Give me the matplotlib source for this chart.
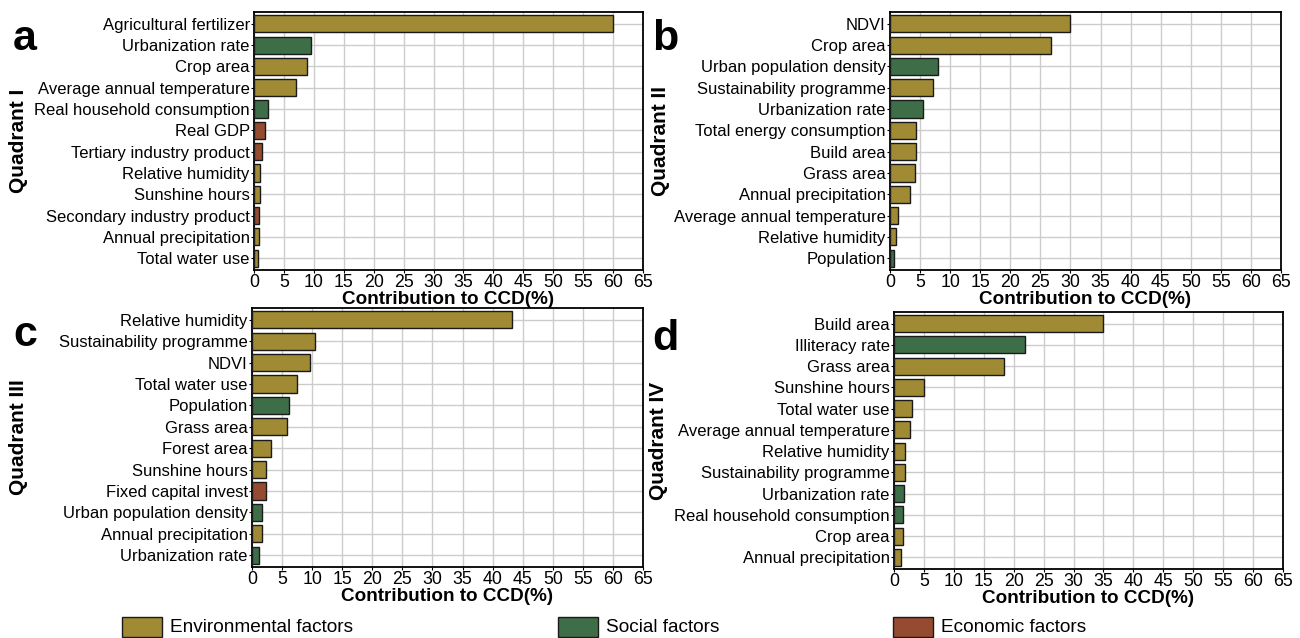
import numpy as np
import matplotlib
matplotlib.use("Agg")
from matplotlib import pyplot as plt

plt.rcParams['font.family'] = ['Liberation Sans', 'DejaVu Sans']

# colours for factor types
col = {'E': '#A08A34', 'S': '#3D6E48', 'C': '#954B2F'}

# panel a - Quadrant I
names_a = ['Agricultural fertilizer', 'Urbanization rate', 'Crop area', 'Average annual temperature',
           'Real household consumption', 'Real GDP', 'Tertiary industry product', 'Relative humidity',
           'Sunshine hours', 'Secondary industry product', 'Annual precipitation', 'Total water use']
vals_a = [60.0, 9.6, 8.8, 7.1, 2.4, 1.8, 1.3, 1.0, 1.0, 0.8, 0.8, 0.6]
type_a = ['E', 'S', 'E', 'E', 'S', 'C', 'C', 'E', 'E', 'C', 'E', 'E']

# panel b - Quadrant II
names_b = ['NDVI', 'Crop area', 'Urban population density', 'Sustainability programme',
           'Urbanization rate', 'Total energy consumption', 'Build area', 'Grass area',
           'Annual precipitation', 'Average annual temperature', 'Relative humidity', 'Population']
vals_b = [30.0, 26.8, 8.0, 7.2, 5.5, 4.3, 4.3, 4.1, 3.4, 1.4, 1.0, 0.7]
type_b = ['E', 'E', 'S', 'E', 'S', 'E', 'E', 'E', 'E', 'E', 'E', 'S']

# panel c - Quadrant III
names_c = ['Relative humidity', 'Sustainability programme', 'NDVI', 'Total water use', 'Population',
           'Grass area', 'Forest area', 'Sunshine hours', 'Fixed capital invest',
           'Urban population density', 'Annual precipitation', 'Urbanization rate']
vals_c = [43.3, 10.5, 9.6, 7.4, 6.1, 5.9, 3.2, 2.4, 2.3, 1.6, 1.6, 1.2]
type_c = ['E', 'E', 'E', 'E', 'S', 'E', 'E', 'E', 'C', 'S', 'E', 'S']

# panel d - Quadrant IV
names_d = ['Build area', 'Illiteracy rate', 'Grass area', 'Sunshine hours', 'Total water use',
           'Average annual temperature', 'Relative humidity', 'Sustainability programme',
           'Urbanization rate', 'Real household consumption', 'Crop area', 'Annual precipitation']
vals_d = [34.9, 21.9, 18.4, 5.0, 3.0, 2.6, 1.9, 1.8, 1.6, 1.5, 1.5, 1.2]
type_d = ['E', 'S', 'E', 'E', 'E', 'E', 'E', 'E', 'S', 'S', 'E', 'E']

W, H = 1300, 638
fig = plt.figure(figsize=(13, 6.38), dpi=100)

# axes boxes in pixels: left, top, right, bottom
boxes = [(254, 12, 643, 270), (890, 12, 1281, 270), (252, 308, 643, 567), (894, 312, 1283, 569)]
panels = [(names_a, vals_a, type_a, 'a', 'Quadrant I', 19, 25),
          (names_b, vals_b, type_b, 'b', 'Quadrant II', 661, 665),
          (names_c, vals_c, type_c, 'c', 'Quadrant III', 19, 25),
          (names_d, vals_d, type_d, 'd', 'Quadrant IV', 659, 665)]

for (l, t, r, b), (names, vals, types, letter, quad, qx, lx) in zip(boxes, panels):
    ax = fig.add_axes([l / W, 1 - b / H, (r - l) / W, (b - t) / H])
    y = np.arange(len(names))[::-1]
    ax.barh(y, vals, height=0.8, color=[col[k] for k in types], edgecolor='#1a1a1a', linewidth=1, zorder=3)
    ax.set_xlim(0, 65)
    ax.set_ylim(-0.55, len(names) - 0.45)
    ax.set_xticks(np.arange(0, 66, 5))
    ax.set_yticks(y)
    ax.set_yticklabels(names)
    ax.tick_params(axis='y', labelsize=12.0, length=2, width=0.8, pad=1)
    ax.tick_params(axis='x', labelsize=12.8, length=2, width=0.8, pad=1)
    ax.grid(True, color='#cccccc', linewidth=1, zorder=0)
    for s in ax.spines.values():
        s.set_linewidth(1.3)
    ax.set_xlabel('Contribution to CCD(%)', fontsize=13.6, fontweight='bold', labelpad=0)
    # quadrant label, left of the tick labels
    fig.text(qx / W, 1 - (t + b) / 2 / H, quad,
             rotation=90, fontsize=15, fontweight='bold', ha='center', va='center')
    fig.text(lx / W, 1 - (t + 27) / H, letter, fontsize=31, fontweight='bold', ha='center', va='center')

# legend at bottom
items = [('Environmental factors', 'E', 122), ('Social factors', 'S', 558), ('Economic factors', 'C', 893)]
for lab, k, x in items:
    fig.patches.append(plt.Rectangle((x / W, 1 - 637 / H), 40 / W, 20 / H, transform=fig.transFigure,
                                     facecolor=col[k], edgecolor='#1a1a1a', linewidth=1))
    fig.text((x + 48) / W, 1 - 627 / H, lab, fontsize=13.7, va='center', ha='left')

fig.savefig('out.png', dpi=100)
